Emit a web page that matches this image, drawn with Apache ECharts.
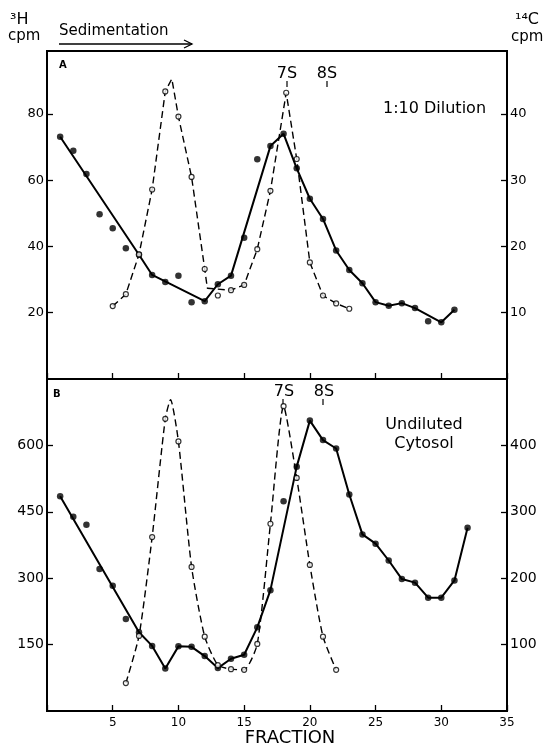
<!DOCTYPE html>
<html>
<head>
<meta charset="utf-8">
<script src="https://cdn.jsdelivr.net/npm/echarts@6/dist/echarts.min.js"></script>
<style>
  html, body { margin: 0; padding: 0; background: #fff; }
  #chart { width: 551px; height: 748px; }
</style>
</head>
<body>
<div id="chart"></div>
<script>
// panel A (1:10 dilution) - 3H, filled circles, left axis
var fracA_H = [1, 2, 3, 4, 5, 6, 7, 8, 9, 10, 11, 12, 13, 14, 15, 16, 17, 18, 19, 20, 21, 22, 23, 24, 25, 26, 27, 28, 29, 30, 31];
var cpmA_H = [73.1, 68.9, 61.9, 49.7, 45.5, 39.5, 37.5, 31.4, 29.3, 31.2, 23.2, 23.5, 28.6, 31.2, 42.6, 66.3, 70.3, 74.0, 63.6, 54.4, 48.3, 38.8, 32.9, 28.9, 23.2, 22.1, 22.9, 21.4, 17.4, 17.1, 20.9];
// hand drawn curve through the 3H points
var curveA_H_x = [1, 7, 8, 12, 13, 14, 17, 18, 19, 20, 21, 22, 23, 24, 25, 26, 27, 28, 30, 31];
var curveA_H_y = [73.1, 37.5, 31.4, 23.5, 28.6, 31.2, 70.3, 74.0, 63.6, 54.4, 48.3, 38.8, 32.9, 28.9, 23.2, 22.1, 22.9, 21.4, 17.1, 20.9];

// panel A - 14C, open circles, right axis
var fracA_C = [5, 6, 7, 8, 9, 10, 11, 12, 13, 14, 15, 16, 17, 18.2, 19, 20, 21, 22, 23];
var cpmA_C = [11.0, 12.8, 18.8, 28.6, 43.4, 39.6, 30.5, 16.6, 12.6, 13.4, 14.2, 19.6, 28.4, 43.2, 33.2, 17.6, 12.6, 11.4, 10.6];
var curveA_C_x = [5, 6, 7, 8, 9, 9.5, 10, 11, 12, 12.2, 14, 15, 16, 17, 18.2, 19, 20, 21, 22, 23];
var curveA_C_y = [11.0, 12.8, 18.8, 28.6, 43.4, 45.3, 39.6, 30.5, 16.6, 13.7, 13.4, 14.2, 19.6, 28.4, 43.2, 33.2, 17.6, 12.6, 11.4, 10.6];

// panel B (undiluted cytosol) - 3H, left axis
var fracB_H = [1, 2, 3, 4, 5, 6, 7, 8, 9, 10, 11, 12, 13, 14, 15, 16, 17, 18, 19, 20, 21, 22, 23, 24, 25, 26, 27, 28, 29, 30, 31, 32];
var cpmB_H = [485, 439, 421, 321, 283, 208, 178, 147, 96, 146, 145, 124, 97, 118, 127, 189, 273, 474, 552, 656, 612, 593, 489, 399, 378, 340, 298, 290, 256, 256, 295, 414];
var curveB_H_x = [1, 7, 8, 9, 10, 11, 12, 13, 14, 15, 16, 17, 19, 20, 21, 22, 23, 24, 25, 26, 27, 28, 29, 30, 31, 32];
var curveB_H_y = [485, 178, 147, 96, 146, 145, 124, 97, 118, 127, 189, 273, 552, 656, 612, 593, 489, 399, 378, 340, 298, 290, 256, 256, 295, 414];

// panel B - 14C, right axis
var fracB_C = [6, 7, 8, 9, 10, 11, 12, 13, 14, 15, 16, 17, 18, 19, 20, 21, 22];
var cpmB_C = [42, 113, 262, 440, 406, 217, 112, 69, 63, 62, 101, 282, 459, 351, 220, 112, 62];
var curveB_C_x = [6, 7, 8, 9, 9.4, 10, 11, 12, 13, 14, 15, 16, 17, 18, 19, 20, 21, 22];
var curveB_C_y = [42, 113, 262, 440, 469, 406, 217, 112, 69, 63, 62, 101, 282, 459, 351, 220, 112, 62];

var fracTicks = [5, 10, 15, 20, 25, 30, 35];

function pairs(xs, ys) {
    return xs.map(function (x, i) { return [x, ys[i]]; });
}

var font = 'DejaVu Sans';

function yAxis(grid, pos, max, step, fs) {
    return {
        type: 'value', gridIndex: grid, position: pos,
        min: 0, max: max, interval: step,
        axisLine: { show: true, lineStyle: { color: '#000', width: 2 } },
        axisTick: { show: true, inside: true, length: 6, lineStyle: { color: '#000', width: 1.3 } },
        axisLabel: {
            show: true, margin: 3, color: '#000', fontFamily: font, fontSize: fs,
            showMinLabel: false, showMaxLabel: false
        },
        splitLine: { show: false }
    };
}

function xAxis(grid, labels) {
    return {
        type: 'value', gridIndex: grid, min: 0, max: 35, interval: 5,
        axisLine: { show: true, onZero: false, lineStyle: { color: '#000', width: 2 } },
        axisTick: { show: true, inside: true, length: 6, lineStyle: { color: '#000', width: 1.3 } },
        axisLabel: {
            show: labels, margin: 6, color: '#000', fontFamily: font, fontSize: 12,
            formatter: function (v) { return fracTicks.indexOf(v) >= 0 ? String(v) : ''; }
        },
        splitLine: { show: false }
    };
}

var chart = echarts.init(document.getElementById('chart'), null, { renderer: 'canvas' });

var option = {
    backgroundColor: '#fff',
    animation: false,
    grid: [
        { left: 47, right: 44, top: 51, height: 328, show: true, borderColor: '#000', borderWidth: 2 },
        { left: 47, right: 44, top: 379, height: 332, show: true, borderColor: '#000', borderWidth: 2 }
    ],
    xAxis: [xAxis(0, false), xAxis(1, true)],
    yAxis: [
        yAxis(0, 'left', 99, 20, 13),
        yAxis(0, 'right', 49.5, 10, 13),
        yAxis(1, 'left', 750, 150, 14),
        yAxis(1, 'right', 500, 100, 14)
    ],
    series: [
        // panel A
        {
            type: 'line', xAxisIndex: 0, yAxisIndex: 0, data: pairs(curveA_H_x, curveA_H_y),
            showSymbol: false, lineStyle: { color: '#000', width: 2 }, z: 2
        },
        {
            type: 'line', xAxisIndex: 0, yAxisIndex: 1, data: pairs(curveA_C_x, curveA_C_y),
            showSymbol: false, lineStyle: { color: '#000', width: 1.4, type: [7, 4] }, z: 2
        },
        {
            type: 'scatter', xAxisIndex: 0, yAxisIndex: 0, data: pairs(fracA_H, cpmA_H),
            symbol: 'circle', symbolSize: 6.5, itemStyle: { color: '#000' }, z: 4
        },
        {
            type: 'scatter', xAxisIndex: 0, yAxisIndex: 1, data: pairs(fracA_C, cpmA_C),
            symbol: 'circle', symbolSize: 5, itemStyle: { color: '#fff', borderColor: '#000', borderWidth: 1.2 }, z: 5
        },
        // panel B
        {
            type: 'line', xAxisIndex: 1, yAxisIndex: 2, data: pairs(curveB_H_x, curveB_H_y),
            showSymbol: false, lineStyle: { color: '#000', width: 2 }, z: 2
        },
        {
            type: 'line', xAxisIndex: 1, yAxisIndex: 3, data: pairs(curveB_C_x, curveB_C_y),
            showSymbol: false, smooth: 0.2, lineStyle: { color: '#000', width: 1.4, type: [7, 4] }, z: 2
        },
        {
            type: 'scatter', xAxisIndex: 1, yAxisIndex: 2, data: pairs(fracB_H, cpmB_H),
            symbol: 'circle', symbolSize: 6.5, itemStyle: { color: '#000' }, z: 4
        },
        {
            type: 'scatter', xAxisIndex: 1, yAxisIndex: 3, data: pairs(fracB_C, cpmB_C),
            symbol: 'circle', symbolSize: 5, itemStyle: { color: '#fff', borderColor: '#000', borderWidth: 1.2 }, z: 5
        }
    ],
    graphic: [
        // axis titles
        { type: 'text', left: 10, top: 12, style: { text: '³H', font: '16px ' + font, fill: '#000' } },
        { type: 'text', left: 8, top: 29, style: { text: 'cpm', font: '15px ' + font, fill: '#000' } },
        { type: 'text', left: 515, top: 12, style: { text: '¹⁴C', font: '16px ' + font, fill: '#000' } },
        { type: 'text', left: 511, top: 30, style: { text: 'cpm', font: '15px ' + font, fill: '#000' } },
        // sedimentation arrow
        { type: 'text', left: 59, top: 24, style: { text: 'Sedimentation', font: '15px ' + font, fill: '#000' } },
        { type: 'line', shape: { x1: 59, y1: 44, x2: 192, y2: 44 }, style: { stroke: '#000', lineWidth: 1.3 } },
        { type: 'polyline', shape: { points: [[184, 40], [192, 44], [184, 48]] }, style: { stroke: '#000', lineWidth: 1.3, fill: null } },
        // panel letters
        { type: 'text', left: 59, top: 60, style: { text: 'A', font: 'bold 10px ' + font, fill: '#000' } },
        { type: 'text', left: 53, top: 389, style: { text: 'B', font: 'bold 10px ' + font, fill: '#000' } },
        // sedimentation markers, panel A
        { type: 'text', x: 287, y: 66, style: { text: '7S', font: '16px ' + font, fill: '#000', align: 'center' } },
        { type: 'text', x: 327, y: 66, style: { text: '8S', font: '16px ' + font, fill: '#000', align: 'center' } },
        { type: 'line', shape: { x1: 287, y1: 81, x2: 287, y2: 87 }, style: { stroke: '#000', lineWidth: 1.2 } },
        { type: 'line', shape: { x1: 327, y1: 81, x2: 327, y2: 87 }, style: { stroke: '#000', lineWidth: 1.2 } },
        // sedimentation markers, panel B
        { type: 'text', x: 284, y: 384, style: { text: '7S', font: '16px ' + font, fill: '#000', align: 'center' } },
        { type: 'text', x: 324, y: 384, style: { text: '8S', font: '16px ' + font, fill: '#000', align: 'center' } },
        { type: 'line', shape: { x1: 283, y1: 399, x2: 283, y2: 405 }, style: { stroke: '#000', lineWidth: 1.2 } },
        { type: 'line', shape: { x1: 323, y1: 399, x2: 323, y2: 405 }, style: { stroke: '#000', lineWidth: 1.2 } },
        // panel captions
        { type: 'text', left: 383, top: 101, style: { text: '1:10 Dilution', font: '16px ' + font, fill: '#000' } },
        { type: 'text', x: 424, y: 417, style: { text: 'Undiluted', font: '16px ' + font, fill: '#000', align: 'center' } },
        { type: 'text', x: 424, y: 436, style: { text: 'Cytosol', font: '16px ' + font, fill: '#000', align: 'center' } },
        // x axis title
        { type: 'text', x: 290, y: 729, style: { text: 'FRACTION', font: '18px ' + font, fill: '#000', align: 'center' } }
    ]
};

chart.setOption(option);
</script>
</body>
</html>
